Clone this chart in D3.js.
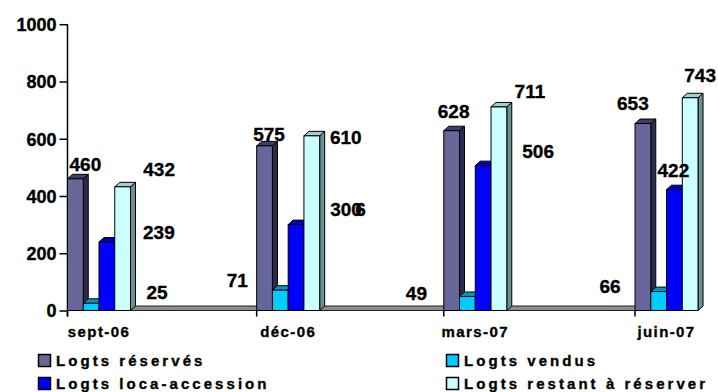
<!DOCTYPE html>
<html>
<head>
<meta charset="utf-8">
<script src="https://cdn.jsdelivr.net/npm/d3@7"></script>
<style>
  html, body { margin: 0; padding: 0; background: #fff; }
  svg { display: block; }
  text { font-family: "Liberation Sans", Arial, sans-serif; font-weight: bold; fill: #000; stroke: #000; stroke-width: 0.35px; }
</style>
</head>
<body>
<svg id="chart" width="718" height="392"></svg>
<script>
// Quarterly dates and their axis labels
const dates = ["2006-09-01", "2006-12-01", "2007-03-01", "2007-06-01"];
const tickLabels = ["sept-06", "déc-06", "mars-07", "juin-07"];

// Series
const seriesNames = ["Logts réservés", "Logts vendus", "Logts loca-accession", "Logts restant à réserver"];
const reserves = [460, 575, 628, 653];
const vendus = [25, 71, 49, 66];
const locaAccession = [239, 300, 506, 422];
const restant = [432, 610, 711, 743];

const yTicks = [0, 200, 400, 600, 800, 1000];

const series = [reserves, vendus, locaAccession, restant];

// Face colours for each series: front, top, side
const palette = [
  { front: "#666699", top: "#3e3e68", side: "#2b2b4b" },
  { front: "#00ccff", top: "#0099c4", side: "#007fa3" },
  { front: "#0000ff", top: "#0000c0", side: "#00009a" },
  { front: "#ccffff", top: "#9fcfcf", side: "#6a9292" }
];

// Label placement (pixel offsets from the top centre of each bar)
const labelOffsets = [
  [[10, -8], [4.5, -5], [2, -12.4], [-10, -13.5]],
  [[66, -4], [-43, -3.5], [-51, 4], [-48.6, 1.7]],
  [[52, -3], [50, -8.6], [55, -8], [-1, -13]],
  [[36.5, -11], [34, 8], [31, -8.6], [10, -15.5]]
];

const parse = d3.timeParse("%Y-%m-%d");
const svg = d3.select("#chart");

const x = d3.scaleTime()
  .domain([parse("2006-09-01"), parse("2007-07-01")])
  .range([67.5, 697.4]);
const y = d3.scaleLinear().domain([0, 1000]).range([310.5, 24.2]);

const groupWidth = 63;
const inner = d3.scaleBand().domain(d3.range(series.length)).range([0, groupWidth]).padding(0);
const depthX = 5, depthY = 4.5;

// Floor of the 3D plot
const x0 = x.range()[0], x1 = x.range()[1], y0 = y(0);
svg.append("path")
  .attr("d", `M${x0},${y0}L${x1},${y0}L${x1 + depthX},${y0 - depthY}L${x0 + depthX},${y0 - depthY}Z`)
  .attr("fill", "#8c8c8c")
  .attr("stroke", "#222")
  .attr("stroke-width", 1);

// Y axis
const yAxis = d3.axisLeft(y).tickValues(yTicks).tickSize(8).tickPadding(4).tickFormat(d3.format("d"));
const gy = svg.append("g").attr("transform", `translate(${x0},0)`).call(yAxis);
gy.select(".domain").attr("d", `M0,${y.range()[1]}V${y0 + 6}`).attr("stroke", "#000").attr("stroke-width", 1.5);
gy.selectAll(".tick line").attr("stroke", "#000").attr("stroke-width", 1.5);
gy.selectAll(".tick text")
  .attr("font-size", 18)
  .attr("x", -11)
  .attr("dy", "0.36em");

// X axis ticks (at each quarter start) and labels centred under each cluster
const gx = svg.append("g");
dates.forEach((d, i) => {
  const px = x(parse(d));
  gx.append("line")
    .attr("x1", px).attr("x2", px)
    .attr("y1", y0).attr("y2", y0 + 6)
    .attr("stroke", "#000").attr("stroke-width", 1.5);
  gx.append("text")
    .attr("x", px + groupWidth / 2)
    .attr("y", 337)
    .attr("text-anchor", "middle")
    .attr("font-size", 15)
    .attr("letter-spacing", 1.4)
    .text(tickLabels[i]);
});

// 3D bars
const bars = svg.append("g");
dates.forEach((d, di) => {
  const gxPos = x(parse(d));
  series.forEach((vals, si) => {
    const bx = gxPos + inner(si);
    const bw = inner.bandwidth();
    const by = y(vals[di]);
    const c = palette[si];
    bars.append("path")
      .attr("d", `M${bx + bw},${y0}L${bx + bw + depthX},${y0 - depthY}L${bx + bw + depthX},${by - depthY}L${bx + bw},${by}Z`)
      .attr("fill", c.side).attr("stroke", "#000").attr("stroke-width", 1).attr("stroke-linejoin", "round");
    bars.append("path")
      .attr("d", `M${bx},${by}L${bx + depthX},${by - depthY}L${bx + bw + depthX},${by - depthY}L${bx + bw},${by}Z`)
      .attr("fill", c.top).attr("stroke", "#000").attr("stroke-width", 1).attr("stroke-linejoin", "round");
    bars.append("rect")
      .attr("x", bx).attr("y", by)
      .attr("width", bw).attr("height", y0 - by)
      .attr("fill", c.front).attr("stroke", "#000").attr("stroke-width", 1);
  });
});

// Value labels
const labels = svg.append("g");
dates.forEach((d, di) => {
  const gxPos = x(parse(d));
  series.forEach((vals, si) => {
    const cx = gxPos + inner(si) + inner.bandwidth() / 2;
    const [dx, dy] = labelOffsets[si][di];
    labels.append("text")
      .attr("x", cx + dx)
      .attr("y", y(vals[di]) + dy)
      .attr("text-anchor", "middle")
      .attr("font-size", 19)
      .text(vals[di]);
  });
});
// overlapping digit beside the loca-accession label of déc-06
{
  const cx = x(parse(dates[1])) + inner(2) + inner.bandwidth() / 2;
  const [dx, dy] = labelOffsets[2][1];
  labels.append("text")
    .attr("x", cx + dx + 14.5)
    .attr("y", y(locaAccession[1]) + dy)
    .attr("text-anchor", "middle")
    .attr("font-size", 19)
    .text("6");
}

// Legend: two columns, two rows
const legendPos = [[38, 354], [446, 354], [38, 377], [446, 377]];
const legend = svg.append("g");
seriesNames.forEach((name, i) => {
  const [lx, ly] = legendPos[i];
  legend.append("rect")
    .attr("x", lx + 0.5).attr("y", ly + 0.5)
    .attr("width", 12).attr("height", 12)
    .attr("fill", palette[i].front)
    .attr("stroke", "#000").attr("stroke-width", 1.5);
  legend.append("text")
    .attr("x", lx + 18)
    .attr("y", ly + 11.8)
    .attr("font-size", 15)
    .attr("letter-spacing", 3.05)
    .text(name);
});
</script>
</body>
</html>
